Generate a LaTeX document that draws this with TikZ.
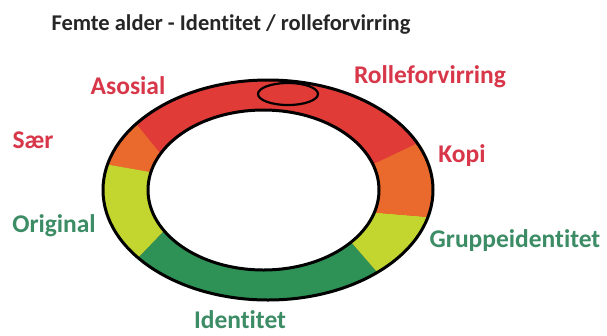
\documentclass[tikz,border=0pt]{standalone}
\usepackage{fontspec}
\setmainfont[Ligatures=NoCommon]{Carlito}
\definecolor{segred}{HTML}{E13B38}
\definecolor{segorange}{HTML}{EA6A2E}
\definecolor{segyellow}{HTML}{C3D62F}
\definecolor{seggreen}{HTML}{2E9256}
\definecolor{txtred}{HTML}{D8374A}
\definecolor{txtgreen}{HTML}{3C8C66}
\definecolor{txtdark}{HTML}{262626}
\tikzset{
  lab/.style={font=\bfseries\fontsize{25.5}{27}\selectfont, inner sep=0pt, anchor=center},
  redlab/.style={lab, text=txtred},
  greenlab/.style={lab, text=txtgreen},
  ringline/.style={draw=black, line width=3pt},
}
\begin{document}
\begin{tikzpicture}[x=1pt,y=-1pt]
\useasboundingbox (0,0) rectangle (607,335);
\fill[white] (0,0) rectangle (607,335);
% ring segments
\begin{scope}
  \clip (268,190) ellipse [x radius=165, y radius=110];
  \fill[segred] (90,60) rectangle (450,320);
  \fill[segorange] (173,169) -- (119,103) -- (70,158) -- (190,179) -- cycle;
  \fill[segyellow] (190,179) -- (70,158) -- (113,284) -- (188,206) -- cycle;
  \fill[seggreen] (188,206) -- (113,284) -- (113,330) -- (404,330) -- (404,303) -- (326,213) -- cycle;
  \fill[segyellow] (326,213) -- (404,303) -- (476,221) -- (332,209) -- cycle;
  \fill[segorange] (332,209) -- (476,221) -- (458,124) -- (338,181) -- cycle;
\end{scope}
\fill[white] (263.5,190) ellipse [x radius=115.5, y radius=80];
\draw[ringline] (268,190) ellipse [x radius=165, y radius=110];
\draw[ringline] (263.5,190) ellipse [x radius=115.5, y radius=80];
\draw[black, line width=2.2pt, fill=segred] (288,94) ellipse [x radius=30, y radius=11];
% labels
\node[lab, text=txtdark, font=\bfseries\fontsize{22.5}{24}\selectfont] (title) at (231,25) {Femte alder - Identitet / rolleforvirring};
\node[redlab] (asosial) at (128,86) {Asosial};
\node[redlab] (saer) at (33,140) {Sær};
\node[greenlab] (original) at (54,226) {Original};
\node[redlab] (rolle) at (430,77) {Rolleforvirring};
\node[redlab] (kopi) at (462,156) {Kopi};
\node[greenlab] (gruppe) at (515,241) {Gruppeidentitet};
\node[greenlab] (identitet) at (240,320) {Identitet};
\end{tikzpicture}
\end{document}
